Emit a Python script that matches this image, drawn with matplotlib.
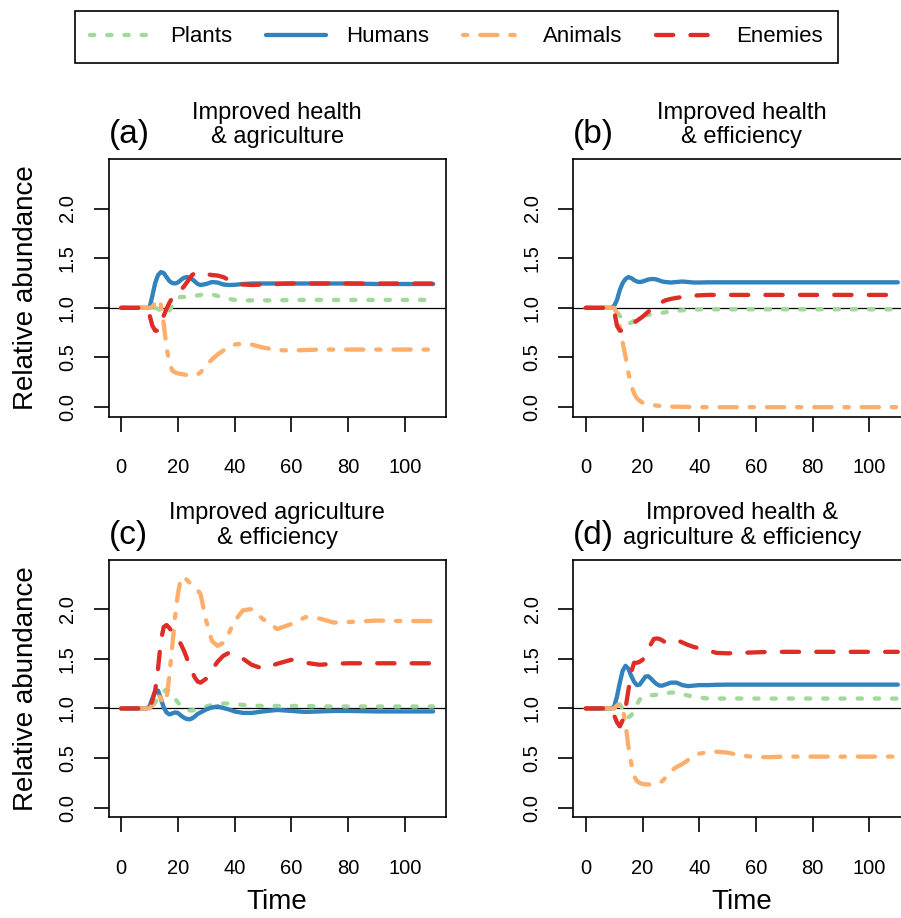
import matplotlib
matplotlib.use("Agg")
import matplotlib.pyplot as plt

plt.rcParams['font.family'] = ['Liberation Sans', 'DejaVu Sans']

# time points
time = [0, 9, 10, 11, 12, 13, 14, 15, 16, 17, 18, 19, 20, 21, 22, 23, 24, 25, 26, 27, 28,
        30, 32, 34, 36, 38, 40, 43, 46, 50, 55, 60, 65, 70, 75, 80, 90, 100, 110]

# (a) improved health & agriculture
plants_a = [1.0, 1.0, 1.0, 1.0, 1.0, 0.99, 0.97, 0.945, 0.94, 0.97, 1.02, 1.07, 1.10, 1.11, 1.11, 1.112,
            1.115, 1.118, 1.12, 1.125, 1.13, 1.135, 1.135, 1.12, 1.105, 1.09, 1.08, 1.075, 1.075, 1.075,
            1.075, 1.08, 1.08, 1.08, 1.08, 1.08, 1.08, 1.08, 1.08]
humans_a = [1.0, 1.0, 1.0, 1.12, 1.25, 1.33, 1.36, 1.35, 1.31, 1.27, 1.25, 1.245, 1.255, 1.28, 1.30, 1.31,
            1.305, 1.29, 1.265, 1.24, 1.23, 1.24, 1.26, 1.255, 1.235, 1.23, 1.232, 1.24, 1.245, 1.245,
            1.245, 1.245, 1.245, 1.245, 1.245, 1.245, 1.24, 1.24, 1.24]
animals_a = [1.0, 1.0, 1.0, 1.01, 1.05, 1.09, 1.03, 0.84, 0.60, 0.45, 0.37, 0.35, 0.34, 0.335, 0.33, 0.325,
             0.32, 0.32, 0.32, 0.33, 0.35, 0.42, 0.48, 0.53, 0.57, 0.61, 0.63, 0.64, 0.63, 0.60,
             0.575, 0.57, 0.575, 0.58, 0.58, 0.58, 0.58, 0.58, 0.58]
enemies_a = [1.0, 1.0, 0.93, 0.82, 0.77, 0.77, 0.84, 0.92, 0.99, 1.05, 1.10, 1.12, 1.15, 1.18, 1.21, 1.25,
             1.29, 1.33, 1.35, 1.36, 1.355, 1.34, 1.33, 1.325, 1.31, 1.28, 1.25, 1.235, 1.23, 1.235,
             1.24, 1.245, 1.245, 1.245, 1.245, 1.245, 1.245, 1.245, 1.245]

# (b) improved health & efficiency
plants_b = [1.0, 1.0, 1.0, 0.96, 0.92, 0.88, 0.855, 0.845, 0.85, 0.87, 0.885, 0.90, 0.915, 0.925, 0.93,
            0.935, 0.94, 0.943, 0.946, 0.95, 0.955, 0.965, 0.97, 0.975, 0.98, 0.982, 0.985, 0.985,
            0.985, 0.985, 0.985, 0.985, 0.985, 0.985, 0.985, 0.985, 0.985, 0.985, 0.985]
humans_b = [1.0, 1.0, 1.02, 1.08, 1.18, 1.25, 1.29, 1.31, 1.30, 1.28, 1.265, 1.26, 1.265, 1.275, 1.285,
            1.29, 1.29, 1.285, 1.275, 1.265, 1.26, 1.255, 1.26, 1.265, 1.26, 1.255, 1.255, 1.257,
            1.257, 1.257, 1.257, 1.257, 1.257, 1.257, 1.257, 1.257, 1.257, 1.257, 1.257]
animals_b = [1.0, 1.0, 1.0, 0.94, 0.81, 0.65, 0.51, 0.35, 0.22, 0.14, 0.09, 0.065, 0.045, 0.035, 0.028,
             0.024, 0.02, 0.016, 0.013, 0.01, 0.008, 0.005, 0.004, 0.003, 0.002, 0.001, 0.0, 0.0,
             0.0, 0.0, 0.0, 0.0, 0.0, 0.0, 0.0, 0.0, 0.0, 0.0, 0.0]
enemies_b = [1.0, 1.0, 0.97, 0.82, 0.77, 0.77, 0.79, 0.805, 0.83, 0.85, 0.87, 0.89, 0.91, 0.935, 0.96,
             0.985, 1.0, 1.03, 1.05, 1.06, 1.075, 1.09, 1.10, 1.11, 1.12, 1.123, 1.126, 1.13, 1.13,
             1.13, 1.13, 1.13, 1.13, 1.13, 1.13, 1.13, 1.13, 1.13, 1.13]

# (c) improved agriculture & efficiency
plants_c = [1.0, 1.0, 1.0, 1.02, 1.06, 1.10, 1.14, 1.17, 1.19, 1.18, 1.15, 1.10, 1.06, 1.03, 1.01, 0.99,
            0.98, 0.98, 0.985, 0.99, 1.0, 1.02, 1.035, 1.045, 1.05, 1.05, 1.045, 1.035, 1.03, 1.025,
            1.025, 1.025, 1.025, 1.02, 1.02, 1.02, 1.02, 1.02, 1.02]
humans_c = [1.0, 1.0, 1.02, 1.10, 1.17, 1.18, 1.10, 1.01, 0.96, 0.94, 0.95, 0.96, 0.955, 0.93, 0.91,
            0.895, 0.89, 0.90, 0.92, 0.945, 0.96, 0.99, 1.01, 1.02, 1.005, 0.99, 0.97, 0.955, 0.955,
            0.97, 0.985, 0.975, 0.965, 0.97, 0.975, 0.975, 0.97, 0.97, 0.97]
animals_c = [1.0, 1.0, 1.0, 1.03, 1.10, 1.14, 1.10, 1.05, 1.10, 1.33, 1.62, 1.92, 2.15, 2.30, 2.33, 2.30,
             2.27, 2.24, 2.22, 2.19, 2.15, 1.88, 1.68, 1.63, 1.66, 1.76, 1.88, 1.99, 2.0, 1.90, 1.80,
             1.85, 1.92, 1.905, 1.865, 1.87, 1.885, 1.88, 1.88]
enemies_c = [1.0, 1.0, 1.0, 1.08, 1.18, 1.40, 1.68, 1.82, 1.84, 1.81, 1.77, 1.73, 1.70, 1.65, 1.59, 1.52,
             1.44, 1.37, 1.31, 1.27, 1.26, 1.30, 1.39, 1.47, 1.53, 1.56, 1.54, 1.50, 1.44, 1.40, 1.45,
             1.49, 1.46, 1.44, 1.45, 1.455, 1.455, 1.455, 1.455]

# (d) improved health & agriculture & efficiency
plants_d = [1.0, 1.0, 1.0, 1.02, 1.04, 1.0, 0.93, 0.91, 0.93, 0.98, 1.04, 1.09, 1.12, 1.125, 1.13, 1.132,
            1.135, 1.138, 1.14, 1.145, 1.15, 1.16, 1.16, 1.145, 1.13, 1.12, 1.11, 1.10, 1.10, 1.10,
            1.10, 1.10, 1.10, 1.10, 1.10, 1.10, 1.10, 1.10, 1.10]
humans_d = [1.0, 1.0, 1.02, 1.12, 1.26, 1.38, 1.43, 1.40, 1.33, 1.27, 1.235, 1.24, 1.28, 1.32, 1.325,
            1.30, 1.27, 1.245, 1.23, 1.23, 1.24, 1.26, 1.26, 1.235, 1.225, 1.23, 1.235, 1.235, 1.238,
            1.24, 1.24, 1.24, 1.24, 1.24, 1.24, 1.24, 1.24, 1.24, 1.24]
animals_d = [1.0, 1.0, 1.0, 1.03, 1.05, 1.0, 0.85, 0.62, 0.45, 0.32, 0.27, 0.25, 0.24, 0.235, 0.235,
             0.235, 0.235, 0.24, 0.25, 0.27, 0.30, 0.37, 0.41, 0.44, 0.48, 0.52, 0.545, 0.56, 0.565,
             0.555, 0.525, 0.51, 0.51, 0.515, 0.515, 0.515, 0.515, 0.515, 0.515]
enemies_d = [1.0, 1.0, 0.93, 0.86, 0.82, 0.88, 1.0, 1.18, 1.36, 1.46, 1.46, 1.47, 1.49, 1.52, 1.59,
             1.65, 1.70, 1.705, 1.70, 1.685, 1.665, 1.68, 1.69, 1.665, 1.64, 1.62, 1.605, 1.585, 1.56,
             1.555, 1.56, 1.565, 1.57, 1.57, 1.57, 1.57, 1.57, 1.57, 1.57]

series_names = ['Plants', 'Humans', 'Animals', 'Enemies']
colors = ['#a1d99b', '#3182bd', '#fdae6b', '#de2d26']
dash_styles = [(0, (1, 3)), '-', (0, (1, 3, 4, 3)), (0, (4, 4))]

panel_tags = ['(a)', '(b)', '(c)', '(d)']
titles = [('Improved health', '& agriculture'),
          ('Improved health', '& efficiency'),
          ('Improved agriculture', '& efficiency'),
          ('Improved health &', 'agriculture & efficiency')]
panel_data = [[plants_a, humans_a, animals_a, enemies_a],
              [plants_b, humans_b, animals_b, enemies_b],
              [plants_c, humans_c, animals_c, enemies_c],
              [plants_d, humans_d, animals_d, enemies_d]]

xticks = [0, 20, 40, 60, 80, 100]
yticks = [0.0, 0.5, 1.0, 1.5, 2.0]

fig = plt.figure(figsize=(9.01, 9.18), dpi=100)

lefts = [0.1206, 0.6363, 0.1206, 0.6363]
bottoms = [0.5461, 0.5461, 0.1097, 0.1097]
w, h = 0.3740, 0.2804

handles = []
for i in range(4):
    ax = fig.add_axes([lefts[i], bottoms[i], w, h])
    ax.axhline(1.0, color='black', lw=0.9, zorder=1)
    for j in range(4):
        ln, = ax.plot(time, panel_data[i][j], color=colors[j], linestyle=dash_styles[j],
                      lw=3.1, dash_capstyle='round', solid_capstyle='round', zorder=2 + j,
                      label=series_names[j])
        if i == 0:
            handles.append(ln)
    ax.set_xlim(-4.4, 114.4)
    ax.set_ylim(-0.096, 2.496)
    ax.set_xticks(xticks)
    ax.set_xticklabels([str(v) for v in xticks])
    ax.set_yticks(yticks)
    ax.set_yticklabels(['%.1f' % v for v in yticks])
    ax.tick_params(axis='both', direction='out', length=10.8, width=1.2, labelsize=14.5)
    ax.tick_params(axis='x', pad=19)
    ax.tick_params(axis='y', pad=12, labelrotation=90)
    plt.setp(ax.get_yticklabels(), va='center')
    for sp in ax.spines.values():
        sp.set_linewidth(1.2)

    ax.text(0.5, 1.158, titles[i][0], transform=ax.transAxes, ha='center', va='baseline', fontsize=17)
    ax.text(0.5, 1.062, titles[i][1], transform=ax.transAxes, ha='center', va='baseline', fontsize=17)
    ax.text(0.0, 1.062, panel_tags[i], transform=ax.transAxes, ha='left', va='baseline', fontsize=24)

    if i in (0, 2):
        ax.set_ylabel('Relative abundance', fontsize=20)
        ax.yaxis.set_label_coords(-0.208, 0.5)
    if i in (2, 3):
        ax.set_xlabel('Time', fontsize=20)
        ax.xaxis.set_label_coords(0.5, -0.279)

leg = fig.legend(handles, series_names, ncol=4, loc='center', bbox_to_anchor=(0.5067, 0.9597),
                 fontsize=16, frameon=True, fancybox=False, framealpha=1, edgecolor='black',
                 handlelength=2.7, handletextpad=0.9, columnspacing=1.52, borderpad=0.7)
leg.get_frame().set_linewidth(1.2)

fig.savefig('out.png', dpi=100)
